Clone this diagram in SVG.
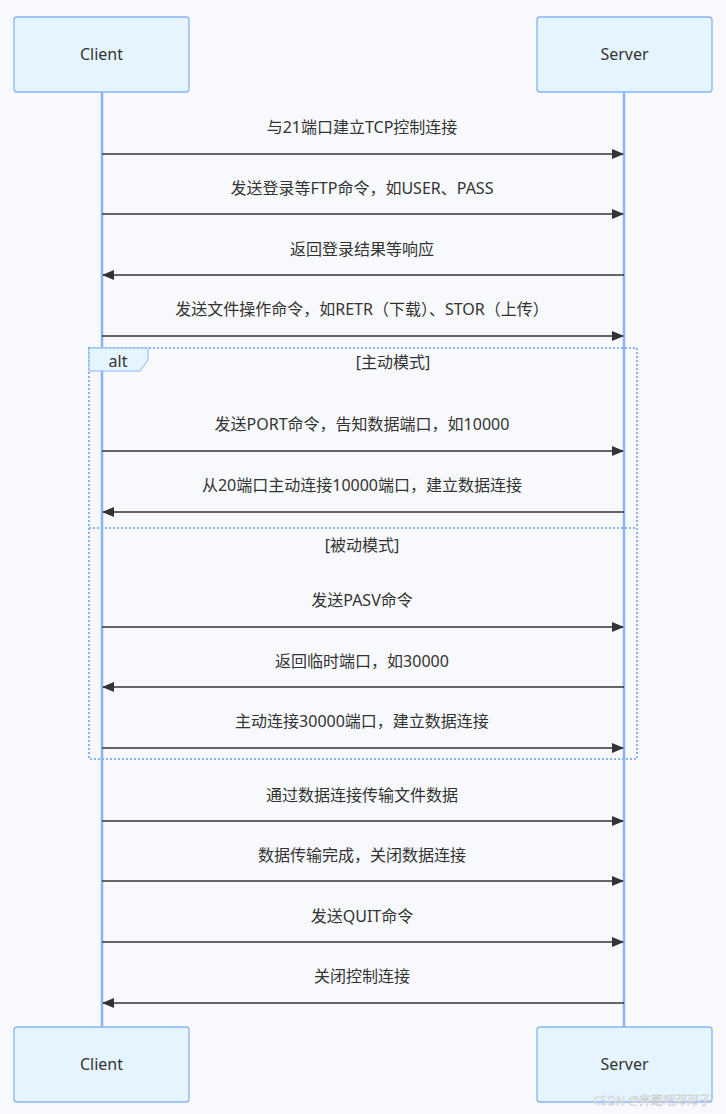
<svg xmlns="http://www.w3.org/2000/svg" width="726" height="1114" viewBox="0 0 726 1114">
<style>
text{font-family:"Noto Sans","Noto Sans CJK SC",sans-serif;fill:#333;font-size:16px;text-anchor:middle}
.actor rect{fill:#e5f5ff;stroke:#88b4f5;stroke-width:1.3}
.life{stroke:#88b4f5;stroke-width:2.5}
.msg{stroke:#333;stroke-width:1.5;fill:none}
.box{fill:none;stroke:#88b4f5;stroke-width:2;stroke-dasharray:2 2}
</style>
<defs><marker id="ah" viewBox="0 0 12 12" refX="11" refY="6" markerWidth="12" markerHeight="12" markerUnits="userSpaceOnUse" orient="auto"><path d="M0,1L12,6L0,11z" fill="#333"/></marker></defs>
<rect width="726" height="1114" fill="#f8f9fc"/>
<g id="lifelines"><line class="life" x1="102" y1="92" x2="102" y2="1027"/><line class="life" x1="624" y1="92" x2="624" y2="1027"/></g>
<g id="client-top" class="actor"><rect x="14" y="17" width="175" height="75" rx="3"/><text x="101.5" y="60">Client</text></g>
<g id="server-top" class="actor"><rect x="537" y="17" width="175" height="75" rx="3"/><text x="624.5" y="60">Server</text></g>
<g id="client-bottom" class="actor"><rect x="14" y="1027" width="175" height="75" rx="3"/><text x="101.5" y="1070">Client</text></g>
<g id="server-bottom" class="actor"><rect x="537" y="1027" width="175" height="75" rx="3"/><text x="624.5" y="1070">Server</text></g>
<g id="alt">
<rect class="box" x="89" y="348" width="548" height="411"/>
<line class="box" x1="89" y1="528" x2="637" y2="528"/>
<path d="M89,348H148V360L140,371H89z" fill="#e5f5ff" stroke="#88b4f5" stroke-width="1"/>
<text x="118" y="367">alt</text>
<text x="393" y="368">[主动模式]</text>
<text x="362" y="551">[被动模式]</text>
</g>
<g id="connectors">
<line class="msg" x1="102" y1="154" x2="623" y2="154" marker-end="url(#ah)"/>
<line class="msg" x1="102" y1="214" x2="623" y2="214" marker-end="url(#ah)"/>
<line class="msg" x1="624" y1="275" x2="103" y2="275" marker-end="url(#ah)"/>
<line class="msg" x1="102" y1="336" x2="623" y2="336" marker-end="url(#ah)"/>
<line class="msg" x1="102" y1="451" x2="623" y2="451" marker-end="url(#ah)"/>
<line class="msg" x1="624" y1="512" x2="103" y2="512" marker-end="url(#ah)"/>
<line class="msg" x1="102" y1="627" x2="623" y2="627" marker-end="url(#ah)"/>
<line class="msg" x1="624" y1="687" x2="103" y2="687" marker-end="url(#ah)"/>
<line class="msg" x1="102" y1="748" x2="623" y2="748" marker-end="url(#ah)"/>
<line class="msg" x1="102" y1="821" x2="623" y2="821" marker-end="url(#ah)"/>
<line class="msg" x1="102" y1="881" x2="623" y2="881" marker-end="url(#ah)"/>
<line class="msg" x1="102" y1="942" x2="623" y2="942" marker-end="url(#ah)"/>
<line class="msg" x1="624" y1="1003" x2="103" y2="1003" marker-end="url(#ah)"/>
</g>
<g id="labels">
<text x="362" y="133">与21端口建立TCP控制连接</text>
<text x="362" y="194">发送登录等FTP命令，如USER、PASS</text>
<text x="362" y="255">返回登录结果等响应</text>
<text x="362" y="315">发送文件操作命令，如RETR（下载）、STOR（上传）</text>
<text x="362" y="430">发送PORT命令，告知数据端口，如10000</text>
<text x="362" y="491">从20端口主动连接10000端口，建立数据连接</text>
<text x="362" y="606">发送PASV命令</text>
<text x="362" y="667">返回临时端口，如30000</text>
<text x="362" y="727">主动连接30000端口，建立数据连接</text>
<text x="362" y="801">通过数据连接传输文件数据</text>
<text x="362" y="861">数据传输完成，关闭数据连接</text>
<text x="362" y="922">发送QUIT命令</text>
<text x="362" y="982">关闭控制连接</text>
</g>
<text x="652" y="1105" style="font-size:12px;fill:#fff;stroke:#bbb;stroke-width:0.4">CSDN @奔跑吧邓邓子</text>
</svg>
